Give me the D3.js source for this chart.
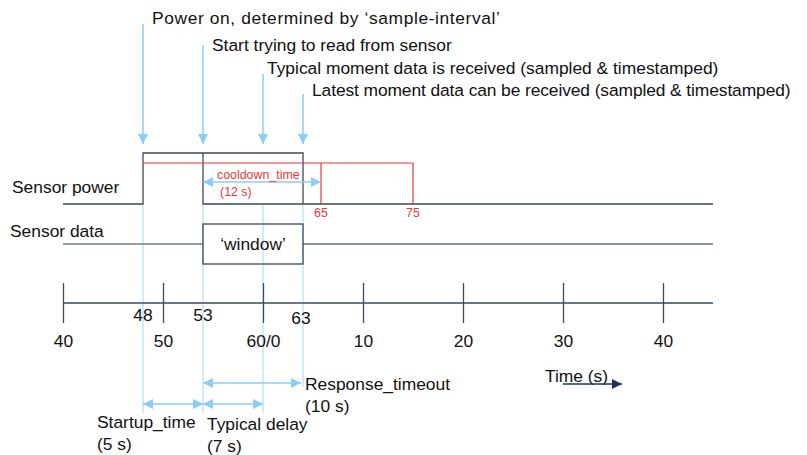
<!DOCTYPE html>
<meta charset="utf-8">
<style>
  body { margin: 0; background: white; }
  svg text { font-family: "Liberation Sans", Arial, sans-serif; }
  .sig { stroke: #3b4a5e; stroke-width: 1.3px; fill: none; }
  .evt { stroke: #c4e3f7; stroke-width: 1.5px; }
  .red { stroke: #ee3535; stroke-width: 1.2px; fill: none; }
  .blue-arrow { stroke: #8ccdf5; stroke-width: 1.5px; fill: none; }
</style>
<body>
<svg width="807" height="455"></svg>
<script src="https://d3js.org/d3.v7.min.js"></script>
<script>

// time axis (seconds within the sample interval)
var tickValues = [40, 50, 60, 70, 80, 90, 100];
var tickLabels = ["40", "50", "60/0", "10", "20", "30", "40"];

// events marked with arrows at top
var eventTimes = [48, 54, 60, 64];
var eventLabels = [
  "Power on, determined by \u2018sample-interval\u2019",
  "Start trying to read from sensor",
  "Typical moment data is received (sampled & timestamped)",
  "Latest moment data can be received (sampled & timestamped)"
];

// marker numbers just above the axis
var markerTimes = [48, 54, 63.8];
var markerLabels = ["48", "53", "63"];

// cooldown ends (red)
var cooldownTimes = [65.8, 75];
var cooldownLabels = ["65", "75"];

// durations [start, end]
var startupSpan = [48, 54];
var typicalSpan = [54, 60];
var responseSpan = [54, 63.8];
var cooldownSpan = [54, 65.8];

const FS = 17.4;   // main font size
const svg = d3.select("svg");
const x = d3.scaleLinear().domain([40, 100]).range([63, 663]);
const tEnd = 105;

// arrow markers
const defs = svg.append("defs");
function marker(id, color, orient) {
  defs.append("marker")
    .attr("id", id)
    .attr("viewBox", "0 0 10 10")
    .attr("refX", 10).attr("refY", 5)
    .attr("markerWidth", 10).attr("markerHeight", 10)
    .attr("markerUnits", "userSpaceOnUse")
    .attr("orient", orient)
    .append("path")
    .attr("d", "M0,0L10,5L0,10Z")
    .attr("fill", color);
}
marker("blueEnd", "#8ccdf5", "auto");
marker("blueStart", "#8ccdf5", "auto-start-reverse");
marker("darkEnd", "#1f3457", "auto");

// light vertical guide lines from the events
const guideBottom = [413, 413, 413, 387];
svg.selectAll(".evt").data(eventTimes).enter().append("line")
  .attr("class", "evt")
  .attr("x1", d => x(d)).attr("x2", d => x(d))
  .attr("y1", 204)
  .attr("y2", (d, i) => guideBottom[i]);

// top arrows + labels
const arrowTop = [24, 45, 74, 94];
const textY = [24, 51, 74, 96];
const textDx = [9, 9, 4, 9];
svg.selectAll(".topArrow").data(eventTimes).enter().append("line")
  .attr("class", "blue-arrow")
  .attr("x1", d => x(d)).attr("x2", d => x(d))
  .attr("y1", (d, i) => arrowTop[i]).attr("y2", 144)
  .attr("marker-end", "url(#blueEnd)");

svg.selectAll(".topText").data(eventLabels).enter().append("text")
  .attr("x", (d, i) => x(eventTimes[i]) + textDx[i])
  .attr("y", (d, i) => textY[i])
  .attr("font-size", FS)
  .attr("letter-spacing", (d, i) => i === 0 ? 0.6 : (i === 3 ? -0.1 : 0))
  .attr("fill", "#111")
  .text(d => d);

// Sensor power signal
const yLow = 204, yHigh = 153;
svg.append("path").attr("class", "sig")
  .attr("d", `M${x(40)},${yLow}H${x(eventTimes[0])}V${yHigh}H${x(eventTimes[3])}V${yLow}`);
svg.append("path").attr("class", "sig")
  .attr("d", `M${x(eventTimes[1])},${yHigh}V${yLow}H${x(tEnd)}`);

// cooldown (red)
const yRed = 163;
svg.append("path").attr("class", "red")
  .attr("d", `M${x(eventTimes[0])},${yRed}H${x(cooldownTimes[1])}`);
svg.selectAll(".redV").data(cooldownTimes).enter().append("line")
  .attr("class", "red")
  .attr("x1", d => x(d)).attr("x2", d => x(d))
  .attr("y1", yRed).attr("y2", yLow);
svg.selectAll(".redT").data(cooldownLabels).enter().append("text")
  .attr("x", (d, i) => x(cooldownTimes[i]))
  .attr("y", 217)
  .attr("text-anchor", "middle")
  .attr("font-size", 12.4)
  .attr("fill", "#ee3535")
  .text(d => d);

svg.append("line").attr("class", "blue-arrow")
  .attr("x1", x(cooldownSpan[0])).attr("x2", x(cooldownSpan[1]))
  .attr("y1", 182).attr("y2", 182)
  .attr("marker-start", "url(#blueStart)")
  .attr("marker-end", "url(#blueEnd)");
svg.append("text").attr("x", 217).attr("y", 179)
  .attr("font-size", 12.4).attr("fill", "#ee3535").text("cooldown_time");
svg.append("text").attr("x", 220).attr("y", 196)
  .attr("font-size", 12.4).attr("fill", "#ee3535").text("(12 s)");

// Sensor data signal
const yData = 244;
svg.append("line").attr("class", "sig")
  .attr("x1", x(40)).attr("x2", x(eventTimes[1]))
  .attr("y1", yData).attr("y2", yData)
  .style("stroke", "#6f7d8f");
svg.append("line").attr("class", "sig")
  .attr("x1", x(eventTimes[3])).attr("x2", x(tEnd))
  .attr("y1", yData).attr("y2", yData)
  .style("stroke", "#8a96a6").style("stroke-width", 2);
svg.append("rect").attr("class", "sig")
  .attr("x", x(eventTimes[1])).attr("y", 224)
  .attr("width", x(eventTimes[3]) - x(eventTimes[1])).attr("height", 40);
svg.append("text")
  .attr("x", (x(eventTimes[1]) + x(eventTimes[3])) / 2).attr("y", 250)
  .attr("text-anchor", "middle").attr("font-size", FS).attr("fill", "#111")
  .text("\u2018window\u2019");

svg.append("text").attr("x", 12).attr("y", 193).attr("font-size", FS)
  .attr("fill", "#111").text("Sensor power");
svg.append("text").attr("x", 10).attr("y", 237).attr("font-size", FS)
  .attr("fill", "#111").text("Sensor data");

// time axis
const yAxis = 303;
svg.append("line").attr("class", "sig")
  .attr("x1", x(40)).attr("x2", x(tEnd))
  .attr("y1", yAxis).attr("y2", yAxis);
const axis = svg.append("g")
  .attr("transform", "translate(0,283)")
  .call(d3.axisBottom(x)
    .tickValues(tickValues)
    .tickFormat((d, i) => tickLabels[i])
    .tickSize(40)
    .tickPadding(12));
axis.select(".domain").remove();
axis.selectAll(".tick line").attr("stroke", "#3b4a5e").attr("stroke-width", 1.3);
axis.selectAll(".tick text")
  .attr("font-size", FS).attr("fill", "#111")
  .style("font-family", "Liberation Sans, Arial, sans-serif");

const markerY = [321, 321, 324];
svg.selectAll(".mark").data(markerLabels).enter().append("text")
  .attr("x", (d, i) => x(markerTimes[i]))
  .attr("y", (d, i) => markerY[i])
  .attr("text-anchor", "middle")
  .attr("font-size", FS).attr("fill", "#111")
  .text(d => d);

// duration arrows below the axis
function span(s, y) {
  svg.append("line").attr("class", "blue-arrow")
    .attr("x1", x(s[0])).attr("x2", x(s[1]))
    .attr("y1", y).attr("y2", y)
    .attr("marker-start", "url(#blueStart)")
    .attr("marker-end", "url(#blueEnd)");
}
span(responseSpan, 383);
span(startupSpan, 404);
span(typicalSpan, 404);

function label(lines, x0, y0) {
  lines.forEach((t, i) => {
    svg.append("text").attr("x", x0).attr("y", y0 + i * 22)
      .attr("font-size", FS).attr("fill", "#111").text(t);
  });
}
label(["Response_timeout", "(10 s)"], x(responseSpan[1]) + 4, 390);
label(["Startup_time", "(5 s)"], 97, 428);
label(["Typical delay", "(7 s)"], x(typicalSpan[0]) + 4, 430);

// time direction
svg.append("text").attr("x", 545).attr("y", 382)
  .attr("font-size", FS).attr("fill", "#111").text("Time (s)");
svg.append("line")
  .attr("x1", 563).attr("x2", 622).attr("y1", 384).attr("y2", 384)
  .attr("stroke", "#1f3457").attr("stroke-width", 1.5)
  .attr("marker-end", "url(#darkEnd)");

</script>
</body>
